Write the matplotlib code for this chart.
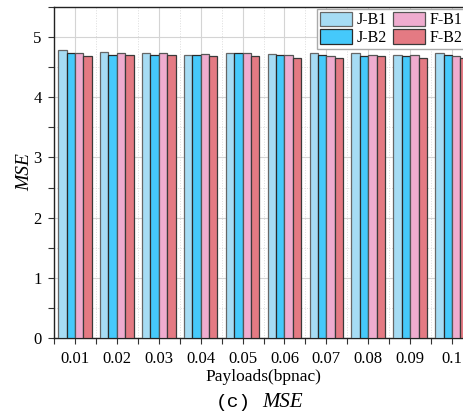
import numpy as np
import matplotlib
matplotlib.use("Agg")
import matplotlib.pyplot as plt
from matplotlib.ticker import MultipleLocator

plt.rcParams['font.family'] = ['Liberation Serif', 'DejaVu Serif']

payloads = ['0.01', '0.02', '0.03', '0.04', '0.05', '0.06', '0.07', '0.08', '0.09', '0.1']
series_names = ['J-B1', 'J-B2', 'F-B1', 'F-B2']
mse_jb1 = [4.78, 4.75, 4.74, 4.71, 4.74, 4.72, 4.74, 4.74, 4.71, 4.73]
mse_jb2 = [4.73, 4.70, 4.70, 4.71, 4.73, 4.71, 4.71, 4.69, 4.68, 4.70]
mse_fb1 = [4.73, 4.73, 4.74, 4.72, 4.74, 4.70, 4.69, 4.71, 4.71, 4.69]
mse_fb2 = [4.68, 4.71, 4.71, 4.68, 4.68, 4.65, 4.66, 4.68, 4.66, 4.66]
colors = ['#a6dcf4', '#45c9fb', '#efaccf', '#e47a83']
edge_colors = ['#666666', '#2a2a2a', '#555555', '#3a3a3a']

fig = plt.figure(figsize=(4.64, 4.12), dpi=100)
ax = fig.add_axes([0.1164, 0.1796, 0.903, 0.8034])

x = np.arange(len(payloads))
width = 0.2
for i, (vals, name, col, ec) in enumerate(zip([mse_jb1, mse_jb2, mse_fb1, mse_fb2],
                                              series_names, colors, edge_colors)):
    ax.bar(x + (i - 1.5) * width, vals, width, color=col, label=name,
           edgecolor=ec, linewidth=0.9, zorder=3)

ax.set_xlim(-0.5, len(payloads) - 0.5)
ax.set_ylim(0, 5.5)
ax.set_xticks(x)
ax.set_xticklabels(payloads)
ax.xaxis.set_minor_locator(MultipleLocator(0.5))
ax.yaxis.set_major_locator(MultipleLocator(1))
ax.yaxis.set_minor_locator(MultipleLocator(0.5))
ax.tick_params(axis='both', which='both', direction='out', labelsize=12,
               length=4, width=0.8, color='#333333', pad=5)

# light solid major grid, dotted minor grid
ax.grid(which='major', color='#d4d4d4', linewidth=0.8, zorder=0)
ax.grid(which='minor', color='#dcdcdc', linewidth=0.7, linestyle=':', zorder=0)
ax.set_axisbelow(True)

for side in ['left', 'bottom', 'top']:
    ax.spines[side].set_color('#222222')
    ax.spines[side].set_linewidth(1.0)

ax.set_ylabel('MSE', fontsize=14, fontstyle='italic', labelpad=0)
ax.set_xlabel('Payloads(bpnac)', fontsize=12.5, labelpad=2)

ax.legend(ncol=2, loc='upper right', bbox_to_anchor=(0.987, 1.0),
          fontsize=11.5, frameon=True, fancybox=False, edgecolor='#aaaaaa',
          handlelength=2.0, handleheight=1.0, labelspacing=0.05,
          columnspacing=0.4, handletextpad=0.3, borderpad=0.2,
          borderaxespad=0.1, framealpha=1)

fig.text(0.54, 0.024, '(c)', fontsize=14, family=['Liberation Mono'],
         ha='right', va='center')
fig.text(0.565, 0.024, 'MSE', fontsize=15, fontstyle='italic',
         ha='left', va='center')

fig.savefig('out.png', dpi=100)
